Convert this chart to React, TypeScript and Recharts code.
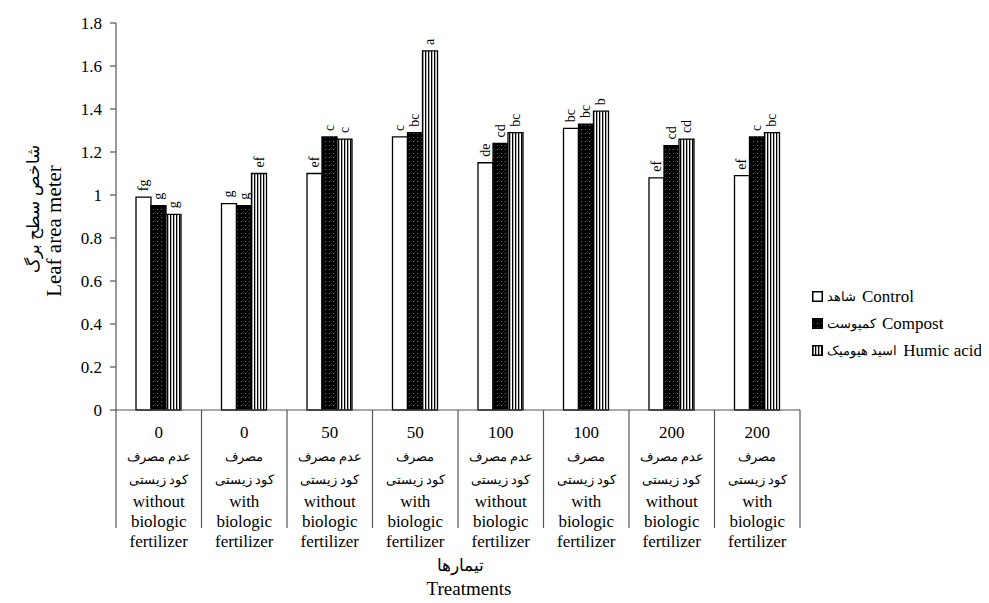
import { BarChart, Bar, XAxis, YAxis, LabelList, Label } from "recharts";

const SERIF = "'Liberation Serif', serif";

// treatment groups: dose + biologic fertilizer use
const doses = ["0", "0", "50", "50", "100", "100", "200", "200"];
const faUse = ["عدم مصرف", "مصرف", "عدم مصرف", "مصرف", "عدم مصرف", "مصرف", "عدم مصرف", "مصرف"];
const faFertilizer = ["کود زیستی", "کود زیستی", "کود زیستی", "کود زیستی", "کود زیستی", "کود زیستی", "کود زیستی", "کود زیستی"];
const enUse = ["without", "with", "without", "with", "without", "with", "without", "with"];

const control = [0.99, 0.96, 1.1, 1.27, 1.15, 1.31, 1.08, 1.09];
const compost = [0.95, 0.95, 1.27, 1.29, 1.24, 1.33, 1.23, 1.27];
const humic = [0.91, 1.1, 1.26, 1.67, 1.29, 1.39, 1.26, 1.29];

const controlLetters = ["fg", "g", "ef", "c", "de", "bc", "ef", "ef"];
const compostLetters = ["g", "g", "c", "bc", "cd", "bc", "cd", "c"];
const humicLetters = ["g", "ef", "c", "a", "bc", "b", "cd", "bc"];

const yTicks = [0, 0.2, 0.4, 0.6, 0.8, 1, 1.2, 1.4, 1.6, 1.8];

const W = 975;
const H = 595;
const M = { top: 15, right: 183, left: 48, bottom: 43 };
const Y_W = 60;
const X_H = 150;
const PLOT_W = W - M.left - M.right - Y_W;
const BAND = PLOT_W / doses.length;

const data = doses.map((_, i) => ({
  group: i,
  control: control[i],
  compost: compost[i],
  humic: humic[i],
  controlLetter: controlLetters[i],
  compostLetter: compostLetters[i],
  humicLetter: humicLetters[i],
}));

function CategoryTick(props: any) {
  const { x, y, payload } = props;
  const i = Number(payload.value);
  const left = x - BAND / 2;
  const right = x + BAND / 2;
  return (
    <g fontFamily={SERIF} fill="#000" textAnchor="middle">
      <line x1={left} x2={left} y1={y} y2={y + 118} stroke="#555" strokeWidth={1.2} />
      {i === doses.length - 1 && (
        <line x1={right} x2={right} y1={y} y2={y + 118} stroke="#555" strokeWidth={1.2} />
      )}
      <text x={x} y={y + 28} fontSize={17}>{doses[i]}</text>
      <text x={x} y={y + 51} fontSize={13}>{faUse[i]}</text>
      <text x={x} y={y + 74} fontSize={13}>{faFertilizer[i]}</text>
      <text x={x} y={y + 97} fontSize={17}>{enUse[i]}</text>
      <text x={x} y={y + 117} fontSize={17}>biologic</text>
      <text x={x} y={y + 137} fontSize={17}>fertilizer</text>
    </g>
  );
}

// significance letters, written vertically above each bar
function LetterLabel(props: any) {
  const { x, y, width, value } = props;
  const cx = x + width / 2;
  const cy = y - 6;
  return (
    <text
      x={cx}
      y={cy}
      transform={`rotate(-90 ${cx} ${cy})`}
      textAnchor="start"
      dominantBaseline="central"
      fontSize={14}
      fontFamily={SERIF}
      fill="#000"
    >
      {value}
    </text>
  );
}

const legendItems = [
  { fill: "#fff", fa: "شاهد", en: "Control" },
  { fill: "url(#compostFill)", fa: "کمپوست", en: "Compost" },
  { fill: "url(#humicFill)", fa: "اسید هیومیک", en: "Humic acid" },
];

function LegendBox() {
  return (
    <div style={{ position: "absolute", left: 804, top: 275, fontFamily: SERIF, fontSize: 17, color: "#000" }}>
      {legendItems.map((it) => (
        <div key={it.en} style={{ display: "flex", alignItems: "center", height: 27, whiteSpace: "nowrap" }}>
          <svg width={11} height={11} style={{ marginRight: 4 }}>
            <rect x={0.75} y={0.75} width={9.5} height={9.5} fill={it.fill} stroke="#000" strokeWidth={1.5} />
          </svg>
          <span style={{ fontSize: 12.5, marginRight: 6 }}>{it.fa}</span>
          <span>{it.en}</span>
        </div>
      ))}
    </div>
  );
}

export default function App() {
  return (
    <div style={{ position: "relative", width: W, height: H, background: "#fff" }}>
      <BarChart width={W} height={H} data={data} margin={M} barSize={15} barGap={0}>
        <defs>
          <pattern id="compostFill" width={4} height={4} patternUnits="userSpaceOnUse">
            <rect width={4} height={4} fill="#000" />
            <circle cx={1.5} cy={1.5} r={0.6} fill="#888" />
          </pattern>
          <pattern id="humicFill" width={3} height={3} patternUnits="userSpaceOnUse">
            <rect width={3} height={3} fill="#fff" />
            <rect width={1.3} height={3} fill="#000" />
          </pattern>
        </defs>
        <XAxis
          dataKey="group"
          type="category"
          height={X_H}
          tickLine={false}
          tickSize={0}
          tickMargin={0}
          axisLine={{ stroke: "#555", strokeWidth: 1.2 }}
          tick={<CategoryTick />}
          interval={0}
        >
          <Label
            content={(p: any) => {
              const vb = p.viewBox;
              const cx = vb.x + vb.width / 2;
              return (
                <g fontFamily={SERIF} fill="#000" textAnchor="middle">
                  <text x={cx + 2} y={vb.y + 161} fontSize={17}>
                    تیمارها
                  </text>
                  <text x={cx + 11} y={vb.y + 185} fontSize={19}>
                    Treatments
                  </text>
                </g>
              );
            }}
          />
        </XAxis>
        <YAxis
          width={Y_W}
          domain={[0, 1.8]}
          ticks={yTicks}
          interval={0}
          tickSize={6}
          tickMargin={8}
          tick={{ fill: "#000", fontSize: 17, fontFamily: SERIF }}
          tickLine={{ stroke: "#555", strokeWidth: 1.2 }}
          axisLine={{ stroke: "#555", strokeWidth: 1.2 }}
        >
          <Label
            content={(p: any) => {
              const vb = p.viewBox;
              const x1 = vb.x - 23;
              const x2 = vb.x - 2;
              const y1 = 201;
              const y2 = 223;
              return (
                <g fontFamily={SERIF} fill="#000" textAnchor="middle">
                  <text x={x1} y={y1} transform={`rotate(-90 ${x1} ${y1})`} dominantBaseline="central" fontSize={16.5}>
                    شاخص سطح برگ
                  </text>
                  <text x={x2} y={y2} transform={`rotate(-90 ${x2} ${y2})`} dominantBaseline="central" fontSize={21}>
                    Leaf area meter
                  </text>
                </g>
              );
            }}
          />
        </YAxis>
        <Bar dataKey="control" name="Control" fill="#fff" stroke="#000" strokeWidth={1.3} isAnimationActive={false}>
          <LabelList dataKey="controlLetter" content={<LetterLabel />} />
        </Bar>
        <Bar dataKey="compost" name="Compost" fill="url(#compostFill)" stroke="#000" strokeWidth={1.3} isAnimationActive={false}>
          <LabelList dataKey="compostLetter" content={<LetterLabel />} />
        </Bar>
        <Bar dataKey="humic" name="Humic acid" fill="url(#humicFill)" stroke="#000" strokeWidth={1.3} isAnimationActive={false}>
          <LabelList dataKey="humicLetter" content={<LetterLabel />} />
        </Bar>
      </BarChart>
      <LegendBox />
    </div>
  );
}
